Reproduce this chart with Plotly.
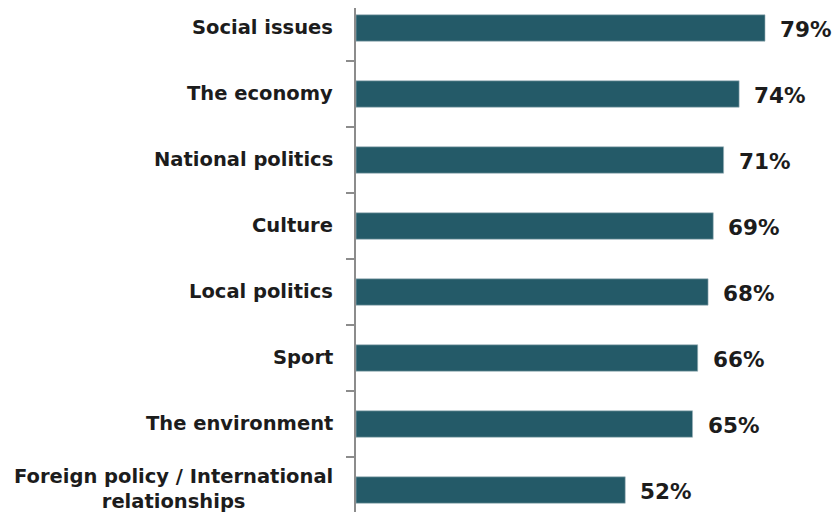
import plotly.graph_objects as go

# Share of respondents interested in each topic (%)
topics = [
    "Social issues",
    "The economy",
    "National politics",
    "Culture",
    "Local politics",
    "Sport",
    "The environment",
    "Foreign policy / International<br>relationships",
]
shares = [79, 74, 71, 69, 68, 66, 65, 52]
value_labels = [f"{v}%" for v in shares]

BAR_COLOR = "#245a68"
TEXT_COLOR = "#1c1c1c"
AXIS_COLOR = "#8c8c8c"
FONT = "DejaVu Sans"

fig = go.Figure(
    go.Bar(
        x=shares,
        y=topics,
        orientation="h",
        width=0.4,
        marker=dict(color=BAR_COLOR, line=dict(color="#9fb6bc", width=0.6)),
        hoverinfo="skip",
    )
)

# Topic labels, centred per line, to the left of the axis
for t in topics:
    fig.add_annotation(
        x=0, xref="paper", y=t, yref="y",
        text=t, showarrow=False,
        xanchor="right", yanchor="middle", align="center",
        xshift=-21, yshift=1,
        font=dict(family=FONT, size=19.5, color=TEXT_COLOR, weight="bold"),
    )

# Value labels just past the end of each bar
for t, v, lab in zip(topics, shares, value_labels):
    fig.add_annotation(
        x=v, xref="x", y=t, yref="y",
        text=lab, showarrow=False,
        xanchor="left", yanchor="middle",
        xshift=13, yshift=-1,
        font=dict(family=FONT, size=21.5, color=TEXT_COLOR, weight="bold"),
    )

fig.update_layout(
    width=837,
    height=512,
    margin=dict(l=356, r=0, t=8, b=0),
    paper_bgcolor="white",
    plot_bgcolor="white",
    showlegend=False,
    bargap=0.6,
    xaxis=dict(
        range=[0, 92.9],
        visible=False,
        fixedrange=True,
    ),
    yaxis=dict(
        type="category",
        categoryorder="array",
        categoryarray=topics,
        range=[7.333, -0.303],
        showticklabels=False,
        showgrid=False,
        zeroline=False,
        showline=True,
        linecolor=AXIS_COLOR,
        linewidth=1.5,
        ticks="outside",
        tickson="boundaries",
        ticklen=8,
        tickcolor=AXIS_COLOR,
        tickwidth=1.5,
        fixedrange=True,
    ),
)

fig.write_html("out.html")
